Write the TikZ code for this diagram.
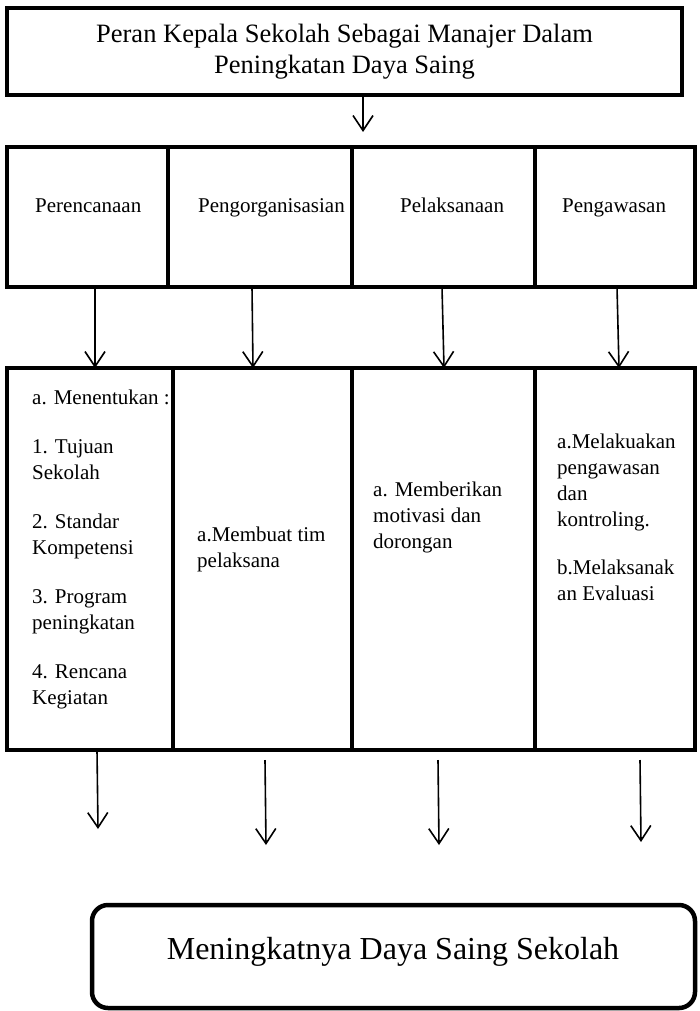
\documentclass[tikz,border=0pt]{standalone}
\usepackage{fontspec}
\setmainfont{Liberation Serif}
\usetikzlibrary{arrows.meta,positioning}
\tikzset{
  kotak/.style={draw, line width=4.5pt, inner sep=0pt, outer sep=0pt},
  isi/.style={draw, line width=4pt, inner sep=0pt, outer sep=0pt, minimum height=382pt},
  teks/.style={inner sep=0pt, align=left, font=\fontsize{21}{26}\selectfont},
  panah/.style={line width=1.6pt, -{Straight Barb[length=15pt,width=20pt,line width=1.6pt]}}
}
\begin{document}
\begin{tikzpicture}[x=1pt, y=-1pt]
  \useasboundingbox (0,0) rectangle (699,1011);
  \node [kotak, minimum width=675pt, minimum height=87pt, align=center,
         font=\fontsize{26.5}{31}\selectfont] (judul) at (344.5,51.5)
        {Peran Kepala Sekolah Sebagai Manajer Dalam\\Peningkatan Daya Saing};
  \coordinate (ujungJudul) at (363,132);
  \draw [panah] ([xshift=18.5pt]judul.south) -- (ujungJudul);

  \node [kotak, minimum width=161pt, minimum height=140pt] (rencana) at (87.5,217) {};
  \node [kotak, minimum width=184pt, minimum height=140pt, right=0pt of rencana] (organisasi) {};
  \node [kotak, minimum width=183pt, minimum height=140pt, right=0pt of organisasi] (laksana) {};
  \node [kotak, minimum width=160pt, minimum height=140pt, right=0pt of laksana] (awas) {};
  \node [teks, anchor=base west] (tRencana) at (35,212) {Perencanaan};
  \node [teks, anchor=base west] (tOrganisasi) at (198,212) {Pengorganisasian};
  \node [teks, anchor=base west] (tLaksana) at (400,212) {Pelaksanaan};
  \node [teks, anchor=base west] (tAwas) at (562,212) {Pengawasan};

  \node [isi, minimum width=166pt] (isiRencana) at (90,559) {};
  \node [isi, minimum width=179pt, right=0pt of isiRencana] (isiOrganisasi) {};
  \node [isi, minimum width=183pt, right=0pt of isiOrganisasi] (isiLaksana) {};
  \node [isi, minimum width=160pt, right=0pt of isiLaksana] (isiAwas) {};

  \draw [panah] ([xshift=7.5pt]rencana.south) -- ([xshift=5pt]isiRencana.north);
  \draw [panah] ([xshift=-8pt]organisasi.south) -- ([xshift=-9.5pt]isiOrganisasi.north);
  \draw [panah] ([xshift=-1.5pt]laksana.south) -- ([xshift=0.5pt]isiLaksana.north);
  \draw [panah] ([xshift=2pt]awas.south) -- ([xshift=4pt]isiAwas.north);

  \node [teks, anchor=north west] (dRencana) at (32,389.5)
        {a. Menentukan :\\[23pt]1. Tujuan\\Sekolah\\[23pt]2. Standar\\Kompetensi\\[23pt]3. Program\\peningkatan\\[23pt]4. Rencana\\Kegiatan};
  \node [teks, anchor=north west] (dOrganisasi) at (197,526.7) {a.Membuat tim\\pelaksana};
  \node [teks, anchor=north west] (dLaksana) at (373,481.7) {a. Memberikan\\motivasi dan\\dorongan};
  \node [teks, anchor=north west] (dAwas) at (557,433.7)
        {a.Melakuakan\\pengawasan\\dan\\kontroling.\\[22pt]b.Melaksanak\\an Evaluasi};

  \coordinate (ujung1) at (98,829);
  \coordinate (ujung2) at (266,845);
  \coordinate (ujung3) at (439,845);
  \coordinate (ujung4) at (641,842);
  \draw [panah] ([xshift=7pt]isiRencana.south) -- (ujung1);
  \draw [panah] ([xshift=2.5pt,yshift=-10pt]isiOrganisasi.south) -- (ujung2);
  \draw [panah] ([xshift=-5.5pt,yshift=-10pt]isiLaksana.south) -- (ujung3);
  \draw [panah] ([xshift=25pt,yshift=-10pt]isiAwas.south) -- (ujung4);

  \node [draw, line width=4.5pt, rounded corners=16pt, minimum width=603pt,
         minimum height=103pt, outer sep=0pt] (hasil) at (393.5,956.5) {};
  \node [inner sep=0pt, font=\fontsize{32}{38}\selectfont] (tHasil) at (393,951.5)
        {Meningkatnya Daya Saing Sekolah};
\end{tikzpicture}
\end{document}
